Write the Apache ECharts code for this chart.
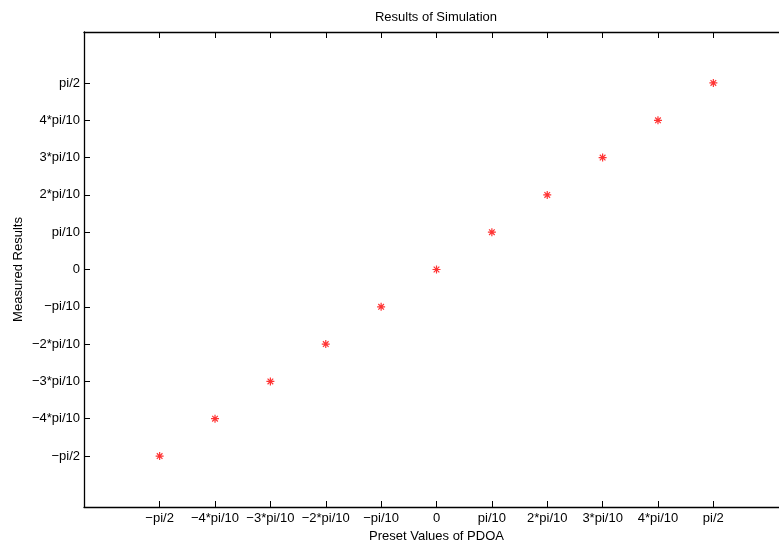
<!DOCTYPE html>
<html>
<head>
<meta charset="utf-8">
<script src="https://cdn.jsdelivr.net/npm/echarts@6/dist/echarts.min.js"></script>
<style>
html,body{margin:0;padding:0;background:#fff;}
#chart{width:779px;height:543px;}
</style>
</head>
<body>
<div id="chart"></div>
<script>
const chartTitle = 'Results of Simulation';
const xName = 'Preset Values of PDOA';
const yName = 'Measured Results';
const presetValues = [-1.5708, -1.2566, -0.9425, -0.6283, -0.3142, 0, 0.3142, 0.6283, 0.9425, 1.2566, 1.5708];
const measuredValues = [-1.5708, -1.2566, -0.9425, -0.6283, -0.3142, 0, 0.3142, 0.6283, 0.9425, 1.2566, 1.5708];
const tickValues = [-1.5708, -1.2566, -0.9425, -0.6283, -0.3142, 0, 0.3142, 0.6283, 0.9425, 1.2566, 1.5708];
const tickLabels = ['\u2212pi/2', '\u22124*pi/10', '\u22123*pi/10', '\u22122*pi/10', '\u2212pi/10', '0', 'pi/10', '2*pi/10', '3*pi/10', '4*pi/10', 'pi/2'];

const FONT = '"Liberation Sans", Arial, Helvetica, sans-serif';
const FS = 13;
const asterisk = 'path://M8.5 0L11.5 0L11.5 20L8.5 20Z M0 8.5L20 8.5L20 11.5L0 11.5Z M1.9 4L4 1.9L18.1 16L16 18.1Z M16 1.9L18.1 4L4 18.1L1.9 16Z';

function labelFor(v) {
  let best = 0, bd = Infinity;
  tickValues.forEach((t, i) => { const d = Math.abs(t - v); if (d < bd) { bd = d; best = i; } });
  return bd < 1e-3 ? tickLabels[best] : '';
}

function axisBase(pos, showLabel, isX) {
  return {
    type: 'value',
    position: pos,
    min: -2,
    max: 2,
    splitLine: { show: false },
    axisLine: { show: true, onZero: false, lineStyle: { color: '#000', width: 1.3 } },
    axisTick: { show: true, inside: true, length: 6, customValues: tickValues, lineStyle: { color: '#000', width: 1 } },
    axisLabel: {
      show: showLabel,
      customValues: tickValues,
      formatter: labelFor,
      color: '#000',
      fontFamily: FONT,
      fontSize: FS,
      margin: isX ? 5 : 4
    },
    axisPointer: { show: false }
  };
}

const chart = echarts.init(document.getElementById('chart'), null, { renderer: 'canvas' });
const xBottom = Object.assign(axisBase('bottom', true, true), {
  name: xName, nameLocation: 'middle', nameGap: 14,
  nameTextStyle: { color: '#000', fontFamily: FONT, fontSize: FS }
});
const yLeft = Object.assign(axisBase('left', true, false), {
  name: yName, nameLocation: 'middle', nameGap: 59, nameMoveOverlap: false,
  nameTextStyle: { color: '#000', fontFamily: FONT, fontSize: FS }
});
chart.setOption({
  animation: false,
  backgroundColor: '#fff',
  grid: { left: 84, top: 32, width: 705, height: 475, show: false, containLabel: false, outerBoundsMode: 'none' },
  xAxis: [xBottom, axisBase('top', false, true)],
  yAxis: [yLeft, axisBase('right', false, false)],
  graphic: [{
    type: 'text', x: 436, y: 17,
    style: { text: chartTitle, fill: '#000', font: FS + 'px ' + FONT, align: 'center', verticalAlign: 'middle' }
  }],
  series: [{
    type: 'scatter',
    xAxisIndex: 0, yAxisIndex: 0,
    symbol: asterisk,
    symbolSize: 8,
    itemStyle: { color: '#ff0000' },
    data: presetValues.map((x, i) => [x, measuredValues[i]])
  }]
});
</script>
</body>
</html>
